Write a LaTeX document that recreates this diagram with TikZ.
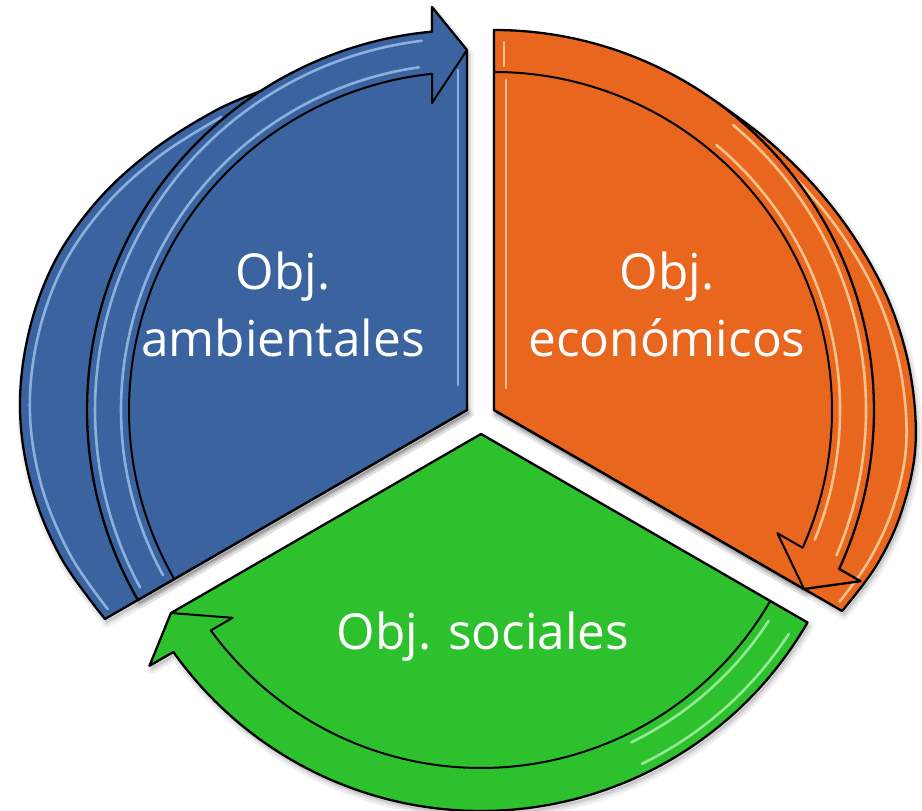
\documentclass[tikz,border=0pt]{standalone}
\usepackage{fontspec}
\setmainfont{Open Sans}
\definecolor{blueseg}{HTML}{3A63A0}
\definecolor{blueshine}{HTML}{A8CBF2}
\definecolor{orangeseg}{HTML}{E8661E}
\definecolor{orangeshine}{HTML}{FFE0B0}
\definecolor{greenseg}{HTML}{2EC12E}
\definecolor{greenshine}{HTML}{B8F5B8}
\tikzset{
  seg/.style={draw=black, line width=2.3pt, line join=round},
  inline/.style={draw=black, line width=2pt, line join=round},
  shine/.style={line width=2.6pt, opacity=0.75, line cap=round},
  shadowA/.style={fill=black, fill opacity=0.10, draw=black, draw opacity=0.06, line width=9pt, line join=round},
  shadowB/.style={draw=black, draw opacity=0.07, line width=4pt, line join=round},
  lbl/.style={text=white, font=\fontsize{49.5}{68}\selectfont, anchor=base, inner sep=0pt},
}
\def\blueband{(0,0) -- (123:380) -- plot[smooth, tension=0.6] coordinates {(123:380) (130:391) (140:407) (150:424) (160:438) (170:445) (180:447) (190:442) (200:432) (210:418)} -- cycle}
\def\orangeband{(0,0) -- (54:380) -- plot[smooth, tension=0.6] coordinates {(54:380) (45:384) (35:391) (25:400) (15:410) (5:418) (-5:423) (-14:420) (-22:413) (-30:402)} -- cycle}
\def\arrowA{(0,0) -- (360,0) -- (403,35) -- (5.28:380) arc[start angle=5.28, end angle=120, radius=380] -- cycle}
\def\arrowB{(0,0) -- (358,0) -- (403,35) -- (5.28:380) arc[start angle=5.28, end angle=120, radius=380] -- cycle}
\def\arrowG{(0,0) -- (358,0) -- (403,35) -- (5.33:377) arc[start angle=5.33, end angle=120, radius=377] -- cycle}
\begin{document}
\begin{tikzpicture}[x=1pt,y=1pt]
\useasboundingbox (0,0) rectangle (922,811);

% ---------------- soft shadows ----------------
\begin{scope}[shift={(469,397)}]
  \path[shadowA] \blueband; \path[shadowB] \blueband;
\end{scope}
\begin{scope}[shift={(469,397)}, rotate=90]
  \path[shadowA] \arrowA; \path[shadowB] \arrowA;
\end{scope}
\begin{scope}[shift={(496,397)}]
  \path[shadowA] \orangeband; \path[shadowB] \orangeband;
\end{scope}
\begin{scope}[shift={(496,397)}, rotate=-30]
  \path[shadowA] \arrowB; \path[shadowB] \arrowB;
\end{scope}
\begin{scope}[shift={(483,373)}, rotate=210]
  \path[shadowA] \arrowG; \path[shadowB] \arrowG;
\end{scope}

% ---------------- BLUE (ambientales) ----------------
\begin{scope}[shift={(467,401)}]
  \path[seg, fill=blueseg] \blueband;
  \begin{scope}[scale=0.978]
    \draw[shine, draw=blueshine] plot[smooth, tension=0.6] coordinates {(130:391) (140:407) (150:424) (160:438) (170:445) (180:447) (190:442) (200:432) (209:420)};
  \end{scope}
\end{scope}
\begin{scope}[shift={(467,401)}, rotate=90]
  \path[seg, fill=blueseg] \arrowA;
  \draw[shine, draw=blueshine] (8:346) arc[start angle=8, end angle=118.5, radius=346];
  \draw[shine, draw=blueshine] (7:372) arc[start angle=7, end angle=118.5, radius=372];
  \draw[shine, draw=blueshine] (25,9) -- (340,9);
  \draw[inline] (360,0) -- (307,35) -- (5.94:338) arc[start angle=5.94, end angle=120, radius=338];
\end{scope}

% ---------------- ORANGE (economicos) ----------------
\begin{scope}[shift={(494,401)}]
  \path[seg, fill=orangeseg] \orangeband;
  \begin{scope}[scale=0.978]
    \draw[shine, draw=orangeshine] plot[smooth, tension=0.6] coordinates {(45:384) (35:391) (25:400) (15:410) (5:418) (-5:423) (-14:420) (-22:413) (-29:404)};
  \end{scope}
\end{scope}
\begin{scope}[shift={(494,401)}, rotate=-30]
  \path[seg, fill=orangeseg] \arrowB;
  \draw[shine, draw=orangeshine] (8:346) arc[start angle=8, end angle=80, radius=346];
  \draw[shine, draw=orangeshine] (7:372) arc[start angle=7, end angle=80, radius=372];
  \draw[inline] (358,0) -- (307,35) -- (5.94:338) arc[start angle=5.94, end angle=120, radius=338];
\end{scope}
\begin{scope}[shift={(494,401)}]
  \draw[shine, draw=orangeshine] (12,22) -- (12,330);
  \draw[shine, draw=orangeshine] (10,344) -- (10,368);
\end{scope}

% ---------------- GREEN (sociales) ----------------
\begin{scope}[shift={(481,377)}, rotate=210]
  \path[seg, fill=greenseg] \arrowG;
  \draw[shine, draw=greenshine] (86:343) arc[start angle=86, end angle=117, radius=343];
  \draw[shine, draw=greenshine] (86:367) arc[start angle=86, end angle=117, radius=367];
  \draw[inline] (358,0) -- (307,35) -- (6.02:334) arc[start angle=6.02, end angle=120, radius=334];
\end{scope}

% ---------------- Labels ----------------
\node[lbl] (amb1) at (283,521) {Obj.};
\node[lbl] (amb2) at (283,454) {ambientales};
\node[lbl] (eco1) at (667,521) {Obj.};
\node[lbl] (eco2) at (667,454) {económicos};
\node[lbl] (soc)  at (483,161) {Obj. sociales};
\end{tikzpicture}
\end{document}
